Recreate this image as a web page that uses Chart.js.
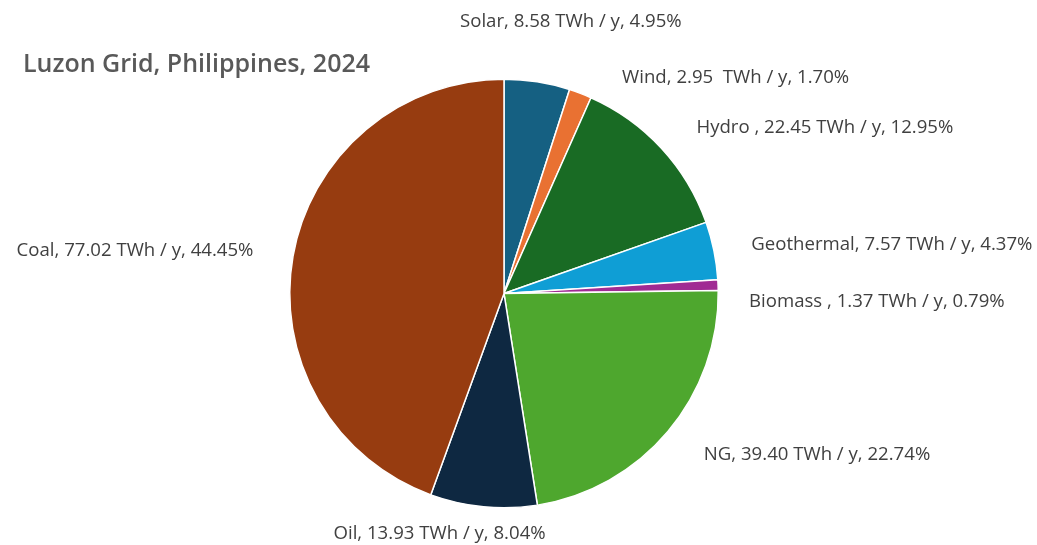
<!DOCTYPE html>
<html>
<head>
<meta charset="utf-8">
<script src="https://cdn.jsdelivr.net/npm/chart.js@4.4.1/dist/chart.umd.min.js"></script>
<style>
  html, body { margin: 0; padding: 0; background: #fff; }
  #wrap { width: 1037px; height: 545px; position: relative; }
</style>
</head>
<body>
<div id="wrap"><canvas id="mixCanvas" width="1037" height="545"></canvas></div>
<script>
// Luzon grid generation mix, 2024
const sources = ["Solar", "Wind", "Hydro", "Geothermal", "Biomass", "NG", "Oil", "Coal"];
const twhPerYear = [8.58, 2.95, 22.45, 7.57, 1.37, 39.40, 13.93, 77.02];
const shareText = ["4.95%", "1.70%", "12.95%", "4.37%", "0.79%", "22.74%", "8.04%", "44.45%"];
const twhText = ["8.58 TWh / y", "2.95  TWh / y", "22.45 TWh / y", "7.57 TWh / y", "1.37 TWh / y", "39.40 TWh / y", "13.93 TWh / y", "77.02 TWh / y"];
const nameText = ["Solar", "Wind", "Hydro ", "Geothermal", "Biomass ", "NG", "Oil", "Coal"];

const sliceColors = ["#156082", "#E97132", "#196B24", "#0F9ED5", "#A02B93", "#4EA72E", "#0E2841", "#973C10"];

// label placement: align + nudge from the point just outside each slice
const labelAlign = ["center", "left", "left", "left", "left", "left", "center", "right"];
const labelNudge = [[29, -30], [31, 12], [13, 0], [8, 0], [1, 18], [13, 4], [-41, -3], [-10, 0]];

const FONT = '"Open Sans", "Noto Sans", sans-serif';

const outsideLabels = {
  id: "outsideLabels",
  afterDatasetsDraw(chart) {
    const ctx = chart.ctx;
    const arcs = chart.getDatasetMeta(0).data;
    ctx.save();
    ctx.font = "18.6px " + FONT;
    ctx.fillStyle = "#404040";
    ctx.textBaseline = "middle";
    arcs.forEach((arc, i) => {
      const p = arc.getProps(["x", "y", "startAngle", "endAngle", "outerRadius"], true);
      const mid = (p.startAngle + p.endAngle) / 2;
      const r = p.outerRadius + 30;
      const x = p.x + Math.cos(mid) * r + labelNudge[i][0];
      const y = p.y + Math.sin(mid) * r + labelNudge[i][1];
      ctx.textAlign = labelAlign[i];
      ctx.fillText(nameText[i] + ", " + twhText[i] + ", " + shareText[i], x, y);
    });
    // chart title, top left
    ctx.font = "600 25px " + FONT;
    ctx.fillStyle = "#595959";
    ctx.textAlign = "left";
    ctx.fillText("Luzon Grid, Philippines, 2024", 23, 65);
    ctx.restore();
  }
};

new Chart(document.getElementById("mixCanvas"), {
  type: "pie",
  data: {
    labels: sources,
    datasets: [{
      data: twhPerYear,
      backgroundColor: sliceColors,
      borderColor: "#ffffff",
      borderWidth: 1.5,
    }],
  },
  options: {
    responsive: false,
    animation: false,
    layout: { padding: { top: 78, bottom: 36, left: 289, right: 318 } },
    plugins: {
      legend: { display: false },
      tooltip: { enabled: false },
    },
  },
  plugins: [outsideLabels],
});
</script>
</body>
</html>
